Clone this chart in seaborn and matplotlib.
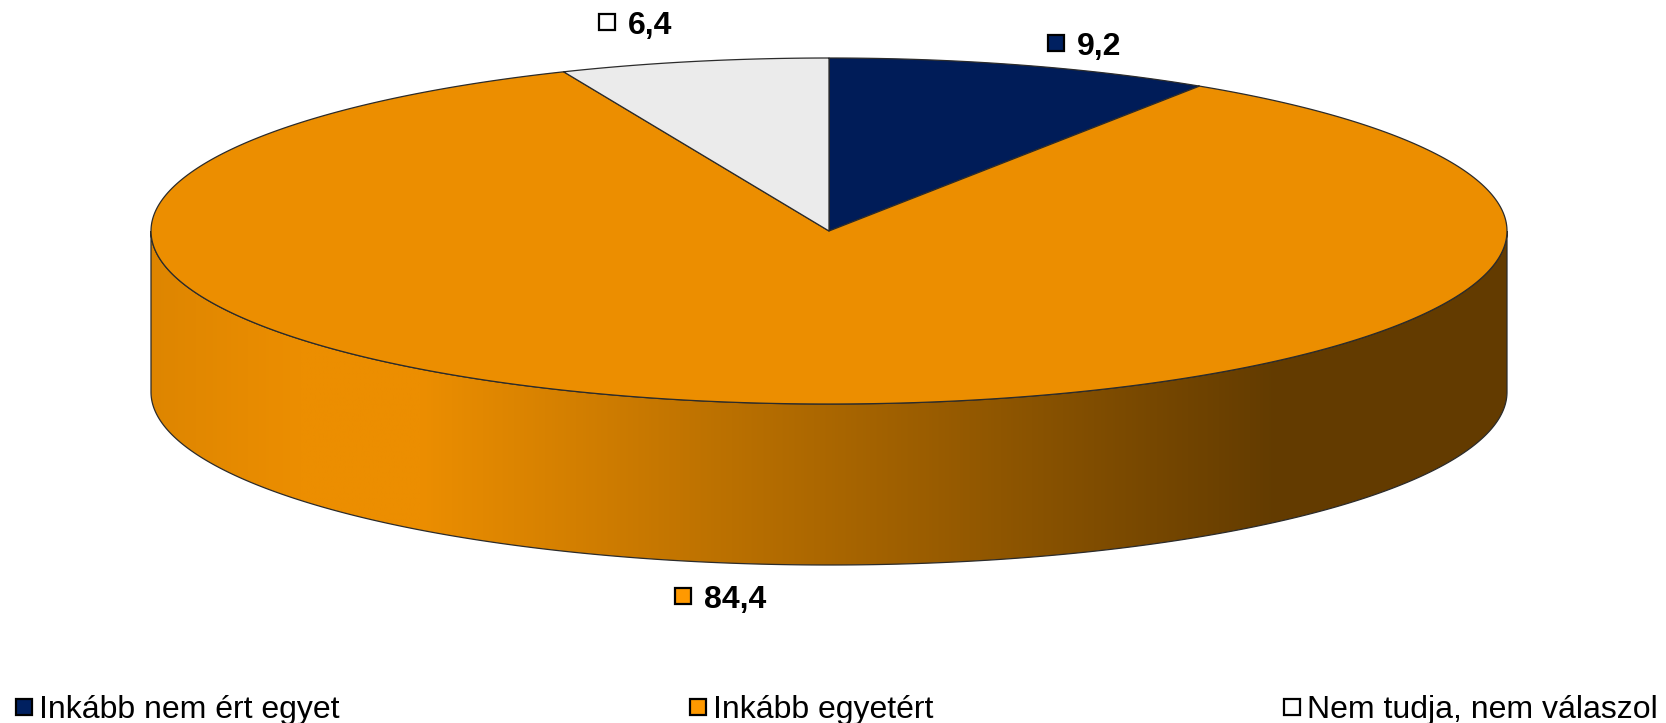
import numpy as np
import matplotlib
matplotlib.use("Agg")
import matplotlib.pyplot as plt
from matplotlib.patches import Polygon
from matplotlib.colors import to_rgb
import seaborn as sns

# Survey answer shares (%)
categories = ["Inkább nem ért egyet", "Inkább egyetért", "Nem tudja, nem válaszol"]
values = [9.2, 84.4, 6.4]
top_colors = ["#001C58", "#EC8E00", "#EBEBEB"]
key_colors = ["#002060", "#FF9900", "#FFFFFF"]

sns.set_theme(style="white")
plt.rcParams["font.family"] = ["Liberation Sans", "DejaVu Sans"]

W, H = 1666, 723
fig = plt.figure(figsize=(W / 100, H / 100), dpi=100)
ax = fig.add_axes([0, 0, 1, 1])
ax.axis("off")

# Projected disc geometry (pixel units)
CX, CY, RX, RY, DEPTH = 829, 231, 678, 173, 161
EDGE = "#2b2b2b"


def rim(theta_deg, dy=0.0):
    t = np.radians(theta_deg)
    return CX + RX * np.sin(t), CY - RY * np.cos(t) + dy


total = sum(values)
bounds = np.concatenate([[0.0], np.cumsum(values)]) / total * 360.0


def shade(x):
    # lighting across the front wall: bright on the left, dark on the right
    return np.interp(x, [CX - RX, 300, 420, 1275, CX + RX],
                     [0.94, 1.0, 1.0, 0.42, 0.42])


# Front walls of the slices (only the part facing the viewer)
for a0, a1, col in zip(bounds[:-1], bounds[1:], top_colors):
    s0, s1 = max(a0, 90.0), min(a1, 270.0)
    if s1 <= s0:
        continue
    th = np.linspace(s0, s1, 300)
    xt, yt = rim(th)
    xb, yb = rim(th[::-1], DEPTH)
    wall = Polygon(np.column_stack([np.r_[xt, xb], np.r_[yt, yb]]), closed=True,
                   facecolor="none", edgecolor=EDGE, lw=0.9, zorder=3)
    ax.add_patch(wall)
    xs = np.linspace(xt.min(), xt.max(), 800)
    grad = np.array(to_rgb(col))[None, None, :] * shade(xs)[None, :, None]
    im = ax.imshow(np.clip(grad, 0, 1), extent=[xs[0], xs[-1], yb.max(), yt.min()],
                   aspect="auto", zorder=2, interpolation="bilinear")
    im.set_clip_path(wall)

# Top face of the slices
for a0, a1, col in zip(bounds[:-1], bounds[1:], top_colors):
    th = np.linspace(a0, a1, 400)
    xt, yt = rim(th)
    pts = np.column_stack([np.r_[CX, xt], np.r_[CY, yt]])
    ax.add_patch(Polygon(pts, closed=True, facecolor=col, edgecolor=EDGE,
                         lw=0.9, joinstyle="round", zorder=4))

# Value labels with colour keys
label_pos = [(1056, 55), (683, 608), (607, 34)]
for v, kc, (x, yb) in zip(values, key_colors, label_pos):
    ax.plot(x, yb - 12, marker="s", ms=11.5, mfc=kc, mec="black", mew=1.6, zorder=5)
    ax.text(x + 21, yb, f"{v:.1f}".replace(".", ","), fontsize=23, fontweight="bold",
            va="baseline", ha="left", color="black", zorder=5)

# Legend row
legend_x = [24, 698, 1292]
legend_y = 718
for name, kc, x in zip(categories, key_colors, legend_x):
    ax.plot(x, legend_y - 11, marker="s", ms=11.5, mfc=kc, mec="black", mew=1.6,
            zorder=5, clip_on=False)
    ax.text(x + 15, legend_y, name, fontsize=23, va="baseline", ha="left",
            color="black", zorder=5)

ax.set_xlim(0, W)
ax.set_ylim(H, 0)
fig.savefig("out.png", dpi=100, facecolor="white")
